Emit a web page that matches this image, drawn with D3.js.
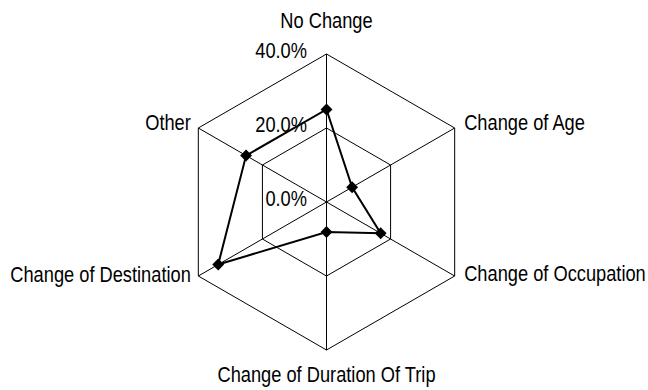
<!DOCTYPE html>
<html>
<head>
<meta charset="utf-8">
<script src="https://cdn.jsdelivr.net/npm/d3@7/dist/d3.min.js"></script>
<style>
  html, body { margin: 0; padding: 0; background: #ffffff; }
  svg { display: block; }
  text { font-family: "Liberation Sans", Arial, sans-serif; font-size: 22px; fill: #000; }
</style>
</head>
<body>
<svg id="chart" width="648" height="390"></svg>
<script>
// Survey categories, clockwise from the top axis
const categories = [
  "No Change",
  "Change of Age",
  "Change of Occupation",
  "Change of Duration Of Trip",
  "Change of Destination",
  "Other"
];
// Share of responses per category (percent)
const values = [25.0, 8.0, 16.9, 8.1, 33.8, 25.1];
// Radial gridline levels and their labels
const levels = [0, 20, 40];
const levelLabels = ["0.0%", "20.0%", "40.0%"];

const svg = d3.select("#chart");
const cx = 326.5, cy = 202, R = 148;
const narrow = 0.83; // horizontal squeeze for a condensed typeface look

const r = d3.scaleLinear().domain([0, 40]).range([0, R]);
const angle = d3.scaleLinear().domain([0, categories.length]).range([0, 2 * Math.PI]);

const pt = (i, v) => {
  const a = angle(i);
  return [cx + r(v) * Math.sin(a), cy - r(v) * Math.cos(a)];
};

const g = svg.append("g");

function label(x, y, anchor, str) {
  g.append("text")
    .attr("transform", `translate(${x},${y}) scale(${narrow},1)`)
    .attr("text-anchor", anchor)
    .text(str);
}

// Hexagonal gridlines
const gridLine = d3.line();
levels.filter(l => l > 0).forEach(l => {
  const pts = categories.map((_, i) => pt(i, l));
  g.append("path")
    .attr("d", gridLine(pts) + "Z")
    .attr("fill", "none")
    .attr("stroke", "#000")
    .attr("stroke-width", 1);
});

// Spokes
categories.forEach((_, i) => {
  const [x, y] = pt(i, 40);
  g.append("line")
    .attr("x1", cx).attr("y1", cy)
    .attr("x2", x).attr("y2", y)
    .attr("stroke", "#000")
    .attr("stroke-width", 1);
});

// Level labels along the top axis
levels.forEach((l, k) => {
  const [, y] = pt(0, l);
  label(cx - 19.5, y + 4, "end", levelLabels[k]);
});

// Category labels
categories.forEach((c, i) => {
  const [x, y] = pt(i, 40);
  const s = Math.sin(angle(i)), co = Math.cos(angle(i));
  let anchor, dx, dy;
  if (Math.abs(s) < 1e-6) {
    anchor = "middle"; dx = 0;
    dy = co > 0 ? -26 : 32;
  } else if (s > 0) {
    anchor = "start"; dx = 9.5;
    dy = co > 0 ? 1.5 : 5;
  } else {
    anchor = "end"; dx = -7.5;
    dy = co > 0 ? 1.5 : 5.5;
  }
  label(x + dx, y + dy, anchor, c);
});

// Data series
const series = values.map((v, i) => pt(i, v));
g.append("path")
  .attr("d", d3.line()(series) + "Z")
  .attr("fill", "none")
  .attr("stroke", "#000")
  .attr("stroke-width", 2)
  .attr("stroke-linejoin", "miter");

const diamond = d3.symbol().type(d3.symbolDiamond2).size(90);
g.selectAll("path.marker")
  .data(series)
  .join("path")
  .attr("class", "marker")
  .attr("transform", d => `translate(${d[0]},${d[1]})`)
  .attr("d", diamond)
  .attr("fill", "#000");
</script>
</body>
</html>
